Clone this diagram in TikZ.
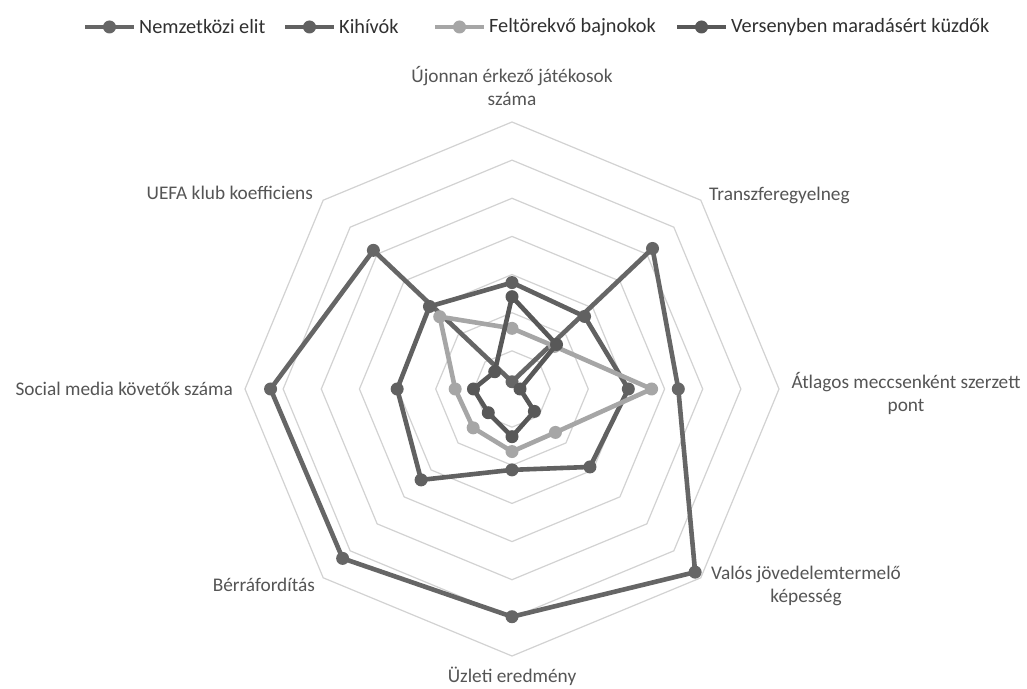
\documentclass[tikz,border=0pt]{standalone}
\usepackage{fontspec}
\setmainfont{Carlito}
\definecolor{gridc}{HTML}{D2D2D2}
\definecolor{sNE}{HTML}{666666}
\definecolor{sKI}{HTML}{616161}
\definecolor{sFE}{HTML}{A6A6A6}
\definecolor{sVE}{HTML}{585858}
\definecolor{labc}{HTML}{555555}
\definecolor{legc}{HTML}{303030}
\newcommand\RU{38.143}
\newcommand\drawseries[3]{%
  \foreach \v [count=\i from 0] in {#3} {\coordinate (#1\i) at ({90-45*\i}:{\v*\RU});}
  \draw[serline,draw=#2] (#10) -- (#11) -- (#12) -- (#13) -- (#14) -- (#15) -- (#16) -- (#17) -- cycle;
  \foreach \i in {0,...,7} {\node[dot,fill=#2] (#1m\i) at (#1\i) {};}
}
\begin{document}
\begin{tikzpicture}[x=1pt,y=1pt,
  gridline/.style={draw=gridc,line width=1.2pt,line join=miter},
  serline/.style={line width=4.6pt,line join=round,line cap=round},
  dot/.style={circle,inner sep=0pt,minimum size=13pt,draw=none},
  axlab/.style={font=\fontsize{19.3}{23}\selectfont,text=labc,align=center,inner sep=0pt},
  leglab/.style={font=\fontsize{20.3}{23}\selectfont,text=legc,anchor=west,inner sep=0pt}]
\useasboundingbox (0,0) rectangle (1027,688);
\fill[white] (0,0) rectangle (1027,688);
% legend
\foreach \x/\c/\t [count=\n] in {85/sNE/Nemzetközi elit,285/sKI/Kihívók,435/sFE/Feltörekvő bajnokok,677/sVE/Versenyben maradásért küzdők}{
  \coordinate (la\n) at (\x,661);
  \coordinate (lb\n) at (\x+49,661);
  \draw[line width=4.6pt,draw=\c] (la\n) -- (lb\n);
  \node[dot,fill=\c] (lm\n) at (\x+24.5,661) {};
  \node[leglab] (lt\n) at (\x+54,661) {\t};
}
\begin{scope}[shift={(512,299)}]
  \coordinate (C) at (0,0);
  \foreach \k in {1,...,7}{
    \draw[gridline] (90:{\k*\RU}) -- (45:{\k*\RU}) -- (0:{\k*\RU}) -- (-45:{\k*\RU}) -- (-90:{\k*\RU}) -- (-135:{\k*\RU}) -- (180:{\k*\RU}) -- (135:{\k*\RU}) -- cycle;
  }
  \drawseries{NE}{sNE}{0.19,5.21,4.36,6.79,5.97,6.28,6.33,5.14}
  \drawseries{KI}{sKI}{2.79,2.69,3.05,2.89,2.12,3.37,3.01,3.06}
  \drawseries{FE}{sFE}{1.59,1.58,3.66,1.61,1.64,1.44,1.49,2.68}
  \drawseries{VE}{sVE}{2.42,1.65,0.21,0.83,1.25,0.88,1.01,0.64}
\end{scope}
% axis labels
\node[axlab] (l0) at (512,601.5) {Újonnan érkező játékosok\\száma};
\node[axlab,anchor=west] (l1) at (709,493) {Transzferegyelneg};
\node[axlab] (l2) at (906,295) {Átlagos meccsenként szerzett\\pont};
\node[axlab] (l3) at (806,102.5) {Valós jövedelemtermelő\\képesség};
\node[axlab,anchor=base] (l4) at (512,6) {Üzleti eredmény};
\node[axlab,anchor=east] (l5) at (315,103) {Bérráfordítás};
\node[axlab,anchor=east] (l6) at (233,299) {Social media követők száma};
\node[axlab,anchor=east] (l7) at (313,495) {UEFA klub koefficiens};
\end{tikzpicture}
\end{document}
